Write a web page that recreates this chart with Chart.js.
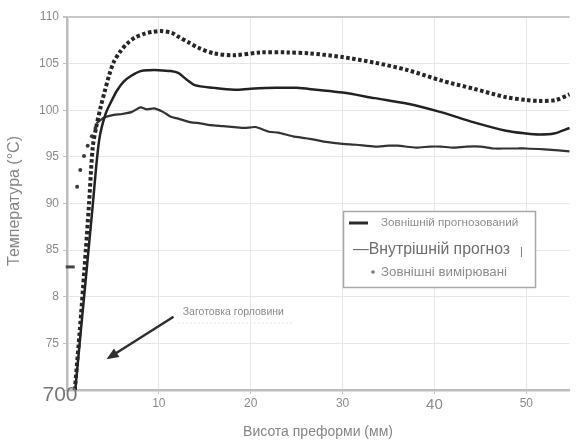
<!doctype html>
<html lang="uk">
<head>
<meta charset="utf-8">
<title>Температура преформи</title>
<script src="https://cdn.jsdelivr.net/npm/chart.js@4.4.1/dist/chart.umd.min.js"></script>
<style>
  html,body{margin:0;padding:0;background:#fff}
  canvas{display:block}
</style>
</head>
<body>
<canvas id="chart" width="577" height="441"></canvas>
<script>
// висота преформи (мм) / температура (°C)
const measHeight = [0.85, 1.4, 1.9, 2.4, 2.8, 3.2, 3.7, 4.1, 4.6, 5.1, 5.8, 6.5, 7.4, 8.4, 9.3, 10.2, 11.4, 12.1, 13.2, 14.3, 16.0, 18.2, 21.0, 24.0, 26.4, 30.0, 33.5, 37.1, 40.7, 44.3, 47.8, 50.0, 51.4, 53.2, 54.7];
const measTemp   = [70.0, 76.5, 83.0, 90.0, 96.0, 98.3, 100.5, 102.0, 103.8, 105.2, 106.3, 107.1, 107.8, 108.2, 108.4, 108.5, 108.3, 107.9, 107.3, 106.7, 106.1, 105.9, 106.2, 106.2, 106.1, 105.7, 105.1, 104.3, 103.2, 102.3, 101.4, 101.1, 101.0, 101.1, 101.7];

// окремі точки вимірювань біля основи
const measExtraHeight = [1.1, 1.45, 1.85, 2.25, 2.7, 3.1];
const measExtraTemp   = [91.8, 93.6, 95.1, 96.2, 97.2, 98.1];
const markHeight = [0.35];
const markTemp   = [83.2];

const predOutHeight = [0.9, 1.5, 2.15, 2.8, 3.5, 4.2, 4.9, 5.5, 6.2, 7.0, 8.0, 9.0, 10.0, 11.3, 12.1, 13.0, 13.9, 16.0, 18.2, 20.0, 22.8, 25.0, 27.1, 30.0, 33.5, 37.1, 40.7, 44.3, 47.8, 50.0, 51.4, 53.0, 54.7];
const predOutTemp   = [70.0, 76.3, 83.0, 89.8, 96.8, 99.6, 101.1, 102.2, 103.1, 103.7, 104.2, 104.3, 104.3, 104.2, 104.0, 103.3, 102.7, 102.4, 102.2, 102.3, 102.4, 102.4, 102.2, 101.9, 101.3, 100.7, 99.8, 98.7, 97.8, 97.5, 97.4, 97.5, 98.1];

const predInHeight = [3.2, 4.0, 5.1, 6.0, 7.0, 8.0, 8.7, 9.5, 10.5, 11.3, 12.1, 13.5, 14.5, 15.6, 17.0, 18.2, 19.3, 20.5, 22.0, 23.0, 24.6, 26.0, 27.2, 28.2, 30.0, 31.5, 33.5, 35.0, 36.0, 38.0, 39.5, 40.7, 42.0, 43.5, 45.0, 46.5, 47.8, 49.0, 50.0, 52.0, 53.5, 54.7];
const predInTemp   = [98.6, 99.2, 99.5, 99.6, 99.8, 100.3, 100.1, 100.2, 99.8, 99.3, 99.1, 98.7, 98.6, 98.4, 98.3, 98.2, 98.1, 98.2, 97.7, 97.6, 97.2, 97.0, 96.8, 96.6, 96.4, 96.3, 96.1, 96.2, 96.2, 96.0, 96.1, 96.1, 96.0, 96.1, 96.1, 95.9, 95.9, 95.9, 95.9, 95.8, 95.7, 95.6];

const yTickValues = [70, 75, 80, 85, 90, 95, 100, 105, 110];
const yTickText   = ['700', '75', '8', '85', '90', '95', '100', '105', '110'];
const xTickValues = [0, 10, 20, 30, 40, 50];
const xTickText   = ['', '10', '20', '30', '40', '50'];

const FONT = '"Liberation Sans", Arial, sans-serif';
const pts = (xs, ys) => xs.map((x, i) => ({ x, y: ys[i] }));

// підписи осей, легенда і стрілка з приміткою
const decor = {
  id: 'decor',
  afterDraw(chart) {
    const { ctx, scales: { x, y } } = chart;
    ctx.save();

    // велика мітка біля початку осі
    ctx.fillStyle = '#777';
    ctx.font = '21px ' + FONT;
    ctx.textAlign = 'center';
    ctx.textBaseline = 'middle';
    ctx.fillText(yTickText[0], 60, y.getPixelForValue(70) + 5);

    // назви осей
    ctx.fillStyle = '#858585';
    ctx.font = '14px ' + FONT;
    ctx.fillText('Висота преформи (мм)', 318, 432);
    ctx.save();
    ctx.translate(15, 201);
    ctx.rotate(-Math.PI / 2);
    ctx.font = '16px ' + FONT;
    ctx.fillText('Температура (°C)', 0, 0);
    ctx.restore();

    // стрілка "Заготовка горловини"
    const x0 = x.getPixelForValue(11.6), y0 = y.getPixelForValue(77.85);
    const x1 = x.getPixelForValue(4.3), y1 = y.getPixelForValue(73.3);
    const ang = Math.atan2(y1 - y0, x1 - x0);
    ctx.strokeStyle = '#2e2e2e';
    ctx.fillStyle = '#2e2e2e';
    ctx.lineWidth = 2.5;
    ctx.beginPath();
    ctx.moveTo(x0, y0);
    ctx.lineTo(x1 - 6 * Math.cos(ang), y1 - 6 * Math.sin(ang));
    ctx.stroke();
    ctx.beginPath();
    ctx.moveTo(x1, y1);
    ctx.lineTo(x1 - 12 * Math.cos(ang) + 5 * Math.sin(ang), y1 - 12 * Math.sin(ang) - 5 * Math.cos(ang));
    ctx.lineTo(x1 - 12 * Math.cos(ang) - 5 * Math.sin(ang), y1 - 12 * Math.sin(ang) + 5 * Math.cos(ang));
    ctx.closePath();
    ctx.fill();

    ctx.fillStyle = '#8a8a8a';
    ctx.font = '10.5px ' + FONT;
    ctx.textAlign = 'left';
    ctx.fillText('Заготовка горловини', x.getPixelForValue(12.6), y.getPixelForValue(78.4));
    ctx.strokeStyle = '#e4e4e4';
    ctx.lineWidth = 1;
    ctx.setLineDash([2, 2]);
    ctx.beginPath();
    ctx.moveTo(178, 323);
    ctx.lineTo(292, 323);
    ctx.stroke();
    ctx.setLineDash([]);

    // легенда
    const bx = 343, by = 211, bw = 192, bh = 76;
    ctx.fillStyle = '#fff';
    ctx.fillRect(bx, by, bw, bh);
    ctx.strokeStyle = '#a9a9a9';
    ctx.lineWidth = 1.5;
    ctx.strokeRect(bx + 0.5, by + 0.5, bw, bh);

    ctx.strokeStyle = '#2a2a2a';
    ctx.lineWidth = 3;
    ctx.beginPath();
    ctx.moveTo(349, 223);
    ctx.lineTo(368, 223);
    ctx.stroke();
    ctx.fillStyle = '#8c8c8c';
    ctx.font = '11.7px ' + FONT;
    ctx.fillText('Зовнішній прогнозований', 381, 223);

    ctx.fillStyle = '#6e6e6e';
    ctx.font = '15.8px ' + FONT;
    ctx.fillText('—Внутрішній прогноз', 353, 250);
    ctx.font = '11px ' + FONT;
    ctx.fillText('|', 520, 252);

    ctx.fillStyle = '#7a7a7a';
    ctx.beginPath();
    ctx.arc(373, 272, 1.8, 0, Math.PI * 2);
    ctx.fill();
    ctx.fillStyle = '#8c8c8c';
    ctx.font = '13.3px ' + FONT;
    ctx.fillText('Зовнішні вимірювані', 381, 272);

    ctx.restore();
  }
};

new Chart(document.getElementById('chart').getContext('2d'), {
  type: 'scatter',
  data: {
    datasets: [
      { label: 'Зовнішні вимірювані', data: pts(measHeight, measTemp), showLine: true,
        borderColor: '#262626', borderWidth: 4, borderDash: [3.5, 2.5], pointRadius: 0, tension: 0.3 },
      { label: 'Зовнішні вимірювані (точки)', data: pts(measExtraHeight, measExtraTemp), showLine: false,
        pointRadius: 2, backgroundColor: '#3a3a3a', borderWidth: 0 },
      { label: 'мітка', data: pts(markHeight, markTemp), showLine: false,
        pointStyle: 'line', pointRadius: 4.5, borderColor: '#444', borderWidth: 3 },
      { label: 'Зовнішній прогнозований', data: pts(predOutHeight, predOutTemp), showLine: true,
        borderColor: '#222', borderWidth: 2.5, pointRadius: 0, tension: 0.3 },
      { label: 'Внутрішній прогноз', data: pts(predInHeight, predInTemp), showLine: true,
        borderColor: '#333', borderWidth: 2.2, pointRadius: 0, tension: 0.2 }
    ]
  },
  options: {
    responsive: false,
    animation: false,
    clip: false,
    layout: { padding: { top: 17, right: 0, left: 0, bottom: 0 } },
    plugins: { legend: { display: false }, tooltip: { enabled: false } },
    scales: {
      x: {
        type: 'linear', min: 0, max: 54.7,
        afterFit: s => { s.height = 51; },
        afterBuildTicks: s => { s.ticks = xTickValues.map(v => ({ value: v })); },
        border: { color: '#bdbdbd', width: 2.5 },
        grid: { color: '#e6e6e6', lineWidth: 1, tickLength: 4, tickColor: '#c4c4c4' },
        ticks: {
          includeBounds: false, padding: 2, color: '#8a8a8a', maxRotation: 0,
          font: c => ({ family: FONT, size: c.tick && c.tick.value === 40 ? 15 : 12 }),
          callback: v => xTickText[xTickValues.indexOf(v)] ?? ''
        }
      },
      y: {
        type: 'linear', min: 70, max: 110,
        afterFit: s => { s.width = 67; },
        afterBuildTicks: s => { s.ticks = yTickValues.map(v => ({ value: v })); },
        border: { color: '#bdbdbd', width: 2.5 },
        grid: {
          color: c => c.tick && c.tick.value === 110 ? '#c6c6c6' : '#e6e6e6',
          lineWidth: c => c.tick && c.tick.value === 110 ? 2 : 1,
          tickLength: 4, tickColor: '#c4c4c4'
        },
        ticks: {
          padding: 4, color: '#8a8a8a',
          font: { family: FONT, size: 12 },
          callback: v => v === 70 ? '' : (yTickText[yTickValues.indexOf(v)] ?? '')
        }
      }
    }
  },
  plugins: [decor]
});
</script>
</body>
</html>
